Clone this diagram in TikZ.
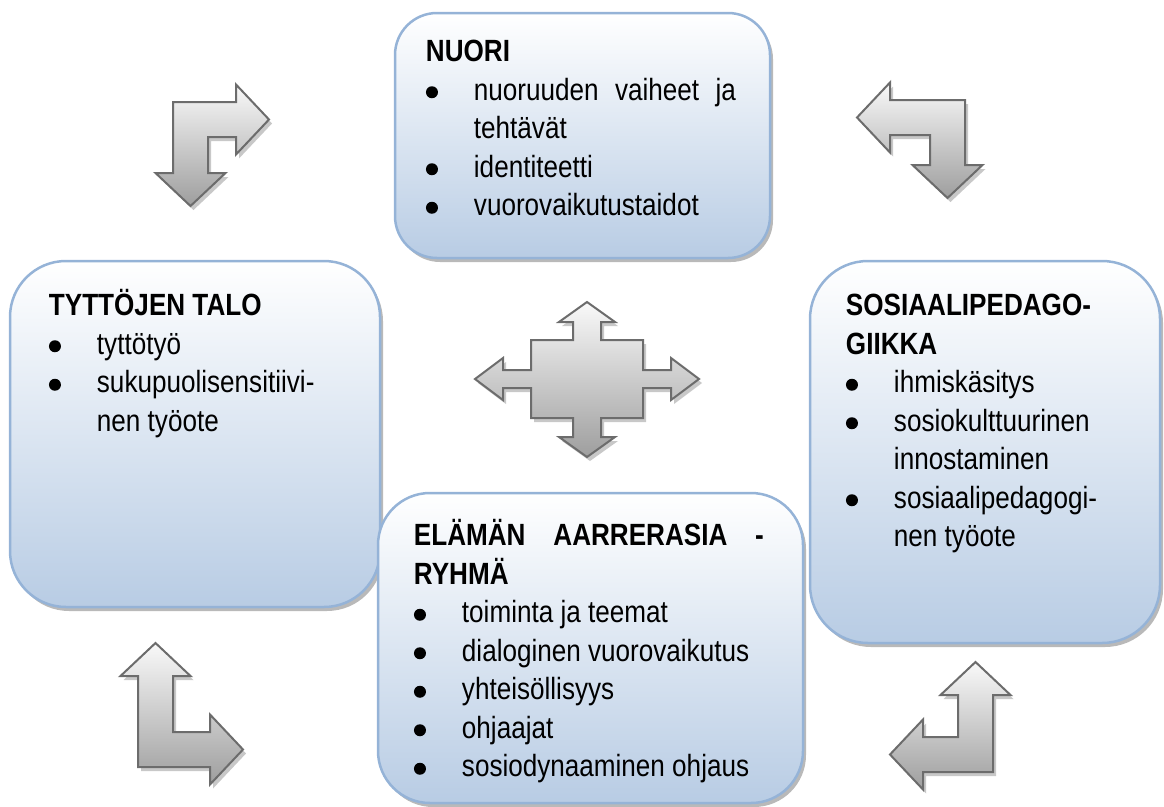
\documentclass[tikz,border=0pt]{standalone}
\usepackage{fontspec}
\setmainfont{Liberation Sans}[FakeStretch=0.85]
\usetikzlibrary{shadows}

\definecolor{panelblue}{RGB}{184,204,228}
\definecolor{paneledge}{RGB}{149,179,215}
\definecolor{arrowlight}{RGB}{249,249,249}
\definecolor{arrowdark}{RGB}{158,158,158}
\definecolor{arrowedge}{RGB}{108,108,108}
\definecolor{arrowshade}{RGB}{200,200,200}

\tikzstyle{panel} = [rectangle, 
draw=paneledge, 
line width=2.5pt, 
top color=white, 
bottom color=panelblue, 
drop shadow={shadow xshift=3pt, shadow yshift=-4pt, fill=black!50, opacity=.55}]
\tikzstyle{paneltext} = [inner sep=0pt, 
anchor=base west, 
font=\fontsize{30.7}{38.5}\selectfont]
\tikzstyle{bigarrow} = [draw=arrowedge, 
line width=2pt, 
top color=arrowlight, 
bottom color=arrowdark, 
drop shadow={shadow xshift=3pt, shadow yshift=-4pt, fill=arrowshade, opacity=1}]

\newcommand{\bul}{\makebox[48pt][l]{\tikz[baseline=0pt]\fill (6pt,8pt) circle[radius=6pt];}}
% corner x, corner y, x sign, y sign, horizontal arm, vertical arm
\newcommand{\bentarrow}[6]{%
\draw[bigarrow] (#1,#2) -- ({#1+(#3)*(#5-33)},#2) -- ({#1+(#3)*(#5-33)},{#2-(#4)*17.5})
  -- ({#1+(#3)*#5},{#2+(#4)*17.5}) -- ({#1+(#3)*(#5-33)},{#2+(#4)*52.5})
  -- ({#1+(#3)*(#5-33)},{#2+(#4)*35}) -- ({#1+(#3)*35},{#2+(#4)*35})
  -- ({#1+(#3)*35},{#2+(#4)*(#6-33)}) -- ({#1+(#3)*52.5},{#2+(#4)*(#6-33)})
  -- ({#1+(#3)*17.5},{#2+(#4)*#6}) -- ({#1-(#3)*17.5},{#2+(#4)*(#6-33)})
  -- (#1,{#2+(#4)*(#6-33)}) -- cycle;}

\begin{document}
\begin{tikzpicture}[x=1pt, y=-1pt]
\useasboundingbox (0,0) rectangle (1164,806);

\node (talo) [panel, minimum width=370pt, minimum height=346pt, rounded corners=56pt] at (195,434) {};
\node (sosio) [panel, minimum width=350pt, minimum height=382pt, rounded corners=58pt] at (985,452) {};
\node (nuori) [panel, minimum width=375pt, minimum height=245pt, rounded corners=42pt] at (582.5,135.5) {};
\node (elama) [panel, minimum width=425pt, minimum height=310pt, rounded corners=52pt] at (590.5,648) {};

\node (nuoriText) [paneltext] at ([shift={(32,50)}]nuori.north west) {\parbox[t]{340pt}{%
\textbf{NUORI}\\
\bul\makebox[262pt][s]{nuoruuden vaiheet ja}\\
\hspace*{48pt}tehtävät\\
\bul identiteetti\\
\bul vuorovaikutustaidot}};

\node (taloText) [paneltext] at ([shift={(40,56)}]talo.north west) {\parbox[t]{320pt}{%
\textbf{TYTTÖJEN TALO}\\
\bul tyttötyö\\
\bul sukupuolisensitiivi-\\
\hspace*{48pt}nen työote}};

\node (sosioText) [paneltext] at ([shift={(37,56)}]sosio.north west) {\parbox[t]{300pt}{%
\textbf{SOSIAALIPEDAGO-}\\
\textbf{GIIKKA}\\
\bul ihmiskäsitys\\
\bul sosiokulttuurinen\\
\hspace*{48pt}innostaminen\\
\bul sosiaalipedagogi-\\
\hspace*{48pt}nen työote}};

\node (elamaText) [paneltext] at ([shift={(37,54)}]elama.north west) {\parbox[t]{370pt}{%
\makebox[350pt][s]{\textbf{ELÄMÄN AARRERASIA -}}\\
\textbf{RYHMÄ}\\
\bul toiminta ja teemat\\
\bul dialoginen vuorovaikutus\\
\bul yhteisöllisyys\\
\bul ohjaajat\\
\bul sosiodynaaminen ohjaus}};

% corner arrows
\bentarrow{173}{102}{1}{1}{96}{104}
\bentarrow{965}{100}{-1}{1}{108}{98}
\bentarrow{138}{767}{1}{-1}{105}{124}
\bentarrow{993}{772}{-1}{-1}{103}{110}

% centre arrow
\draw[bigarrow, shift={(587,379)}] (0,-77) -- (28,-57) -- (14,-57) -- (14,-39) -- (56,-39) -- (56,-9)
  -- (84,-9) -- (84,-21) -- (112,0) -- (84,21) -- (84,9) -- (56,9) -- (56,39) -- (14,39)
  -- (14,58) -- (28,58) -- (0,78) -- (-28,58) -- (-14,58) -- (-14,39) -- (-56,39) -- (-56,9)
  -- (-84,9) -- (-84,21) -- (-112,0) -- (-84,-21) -- (-84,-9) -- (-56,-9) -- (-56,-39)
  -- (-14,-39) -- (-14,-57) -- (-28,-57) -- cycle;

\end{tikzpicture}
\end{document}
